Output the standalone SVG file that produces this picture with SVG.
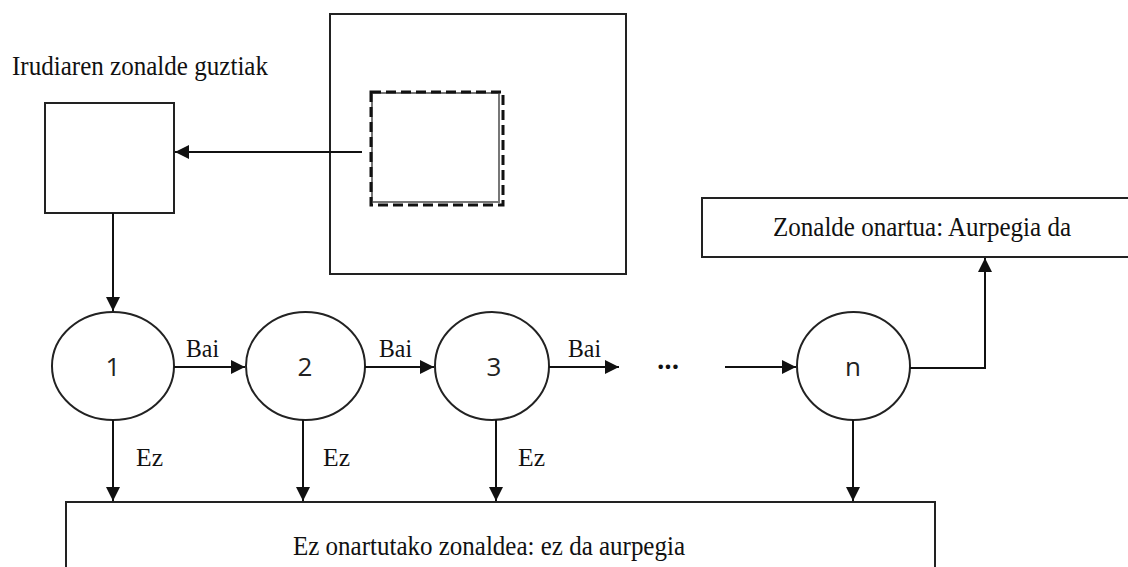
<svg xmlns="http://www.w3.org/2000/svg" width="1128" height="567" viewBox="0 0 1128 567">
<defs>
<style>
.box{fill:#fff;stroke:#222;stroke-width:2}
.c{fill:#fff;stroke:#222;stroke-width:2}
.ln{fill:none;stroke:#111;stroke-width:2}
.serif{font-family:"Liberation Serif","Times New Roman",serif;fill:#111}
.lbl{font-family:"Liberation Serif","Times New Roman",serif;font-size:26px;fill:#111}
.num{font-family:"Open Sans","DejaVu Sans",sans-serif;font-size:26px;fill:#222;text-anchor:middle}
</style>
<marker id="ahb" viewBox="0 0 10 10" refX="10" refY="5" markerWidth="14" markerHeight="14" markerUnits="userSpaceOnUse" orient="auto">
<path d="M0,0 L10,5 L0,10 z" fill="#111"/>
</marker>
</defs>
<rect width="1128" height="567" fill="#fff"/>

<g id="image">
<rect x="330" y="14" width="296" height="260" fill="#fff" stroke="#222" stroke-width="2"/>
<rect x="372" y="93" width="127" height="109" fill="#fff" stroke="#777" stroke-width="2"/>
<rect x="371" y="92" width="132" height="113" fill="none" stroke="#111" stroke-width="3" stroke-dasharray="10 5"/>
</g>

<g id="all-regions">
<text class="serif" x="12" y="75" font-size="28" textLength="256" lengthAdjust="spacingAndGlyphs">Irudiaren zonalde guztiak</text>
<rect class="box" x="45" y="103" width="129" height="110"/>
</g>

<g id="node1"><ellipse class="c" cx="113" cy="366" rx="61" ry="54"/><text class="num" x="113" y="376">1</text></g>
<g id="node2"><ellipse class="c" cx="305.5" cy="366" rx="59.5" ry="54"/><text class="num" x="305" y="376">2</text></g>
<g id="node3"><ellipse class="c" cx="492" cy="366" rx="57" ry="54"/><text class="num" x="494" y="376">3</text></g>
<g id="noden"><ellipse class="c" cx="853.5" cy="366" rx="56.5" ry="54"/><text class="num" x="853" y="376">n</text></g>

<g id="accepted">
<rect class="box" x="702" y="198" width="440" height="59"/>
<text class="serif" x="922" y="236" font-size="28" text-anchor="middle" textLength="298" lengthAdjust="spacingAndGlyphs">Zonalde onartua: Aurpegia da</text>
</g>

<g id="rejected">
<rect class="box" x="66" y="502" width="869" height="80"/>
<text class="serif" x="489" y="555" font-size="28" text-anchor="middle" textLength="392" lengthAdjust="spacingAndGlyphs">Ez onartutako zonaldea: ez da aurpegia</text>
</g>

<g id="connectors">
<line class="ln" x1="362" y1="152" x2="175" y2="152" marker-end="url(#ahb)"/>
<line class="ln" x1="113" y1="213" x2="113" y2="311" marker-end="url(#ahb)"/>
<line class="ln" x1="174" y1="367" x2="245" y2="367" marker-end="url(#ahb)"/>
<line class="ln" x1="365" y1="367" x2="434" y2="367" marker-end="url(#ahb)"/>
<line class="ln" x1="549" y1="367" x2="619" y2="367" marker-end="url(#ahb)"/>
<line class="ln" x1="725" y1="367" x2="796" y2="367" marker-end="url(#ahb)"/>
<polyline class="ln" points="910,368 985,368 985,258" marker-end="url(#ahb)"/>
<line class="ln" x1="113" y1="420" x2="113" y2="501" marker-end="url(#ahb)"/>
<line class="ln" x1="303" y1="420" x2="303" y2="501" marker-end="url(#ahb)"/>
<line class="ln" x1="496" y1="420" x2="496" y2="501" marker-end="url(#ahb)"/>
<line class="ln" x1="853" y1="420" x2="853" y2="501" marker-end="url(#ahb)"/>
<text class="lbl" x="186" y="357" textLength="33" lengthAdjust="spacingAndGlyphs">Bai</text>
<text class="lbl" x="379" y="357" textLength="33" lengthAdjust="spacingAndGlyphs">Bai</text>
<text class="lbl" x="568" y="357" textLength="33" lengthAdjust="spacingAndGlyphs">Bai</text>
<text class="lbl" x="136" y="466" textLength="27" lengthAdjust="spacingAndGlyphs">Ez</text>
<text class="lbl" x="323" y="466" textLength="27" lengthAdjust="spacingAndGlyphs">Ez</text>
<text class="lbl" x="518" y="466" textLength="27" lengthAdjust="spacingAndGlyphs">Ez</text>
<text x="668" y="376" font-family="Open Sans, DejaVu Sans, sans-serif" font-size="26" font-weight="bold" text-anchor="middle" fill="#111">···</text>
</g>
</svg>
